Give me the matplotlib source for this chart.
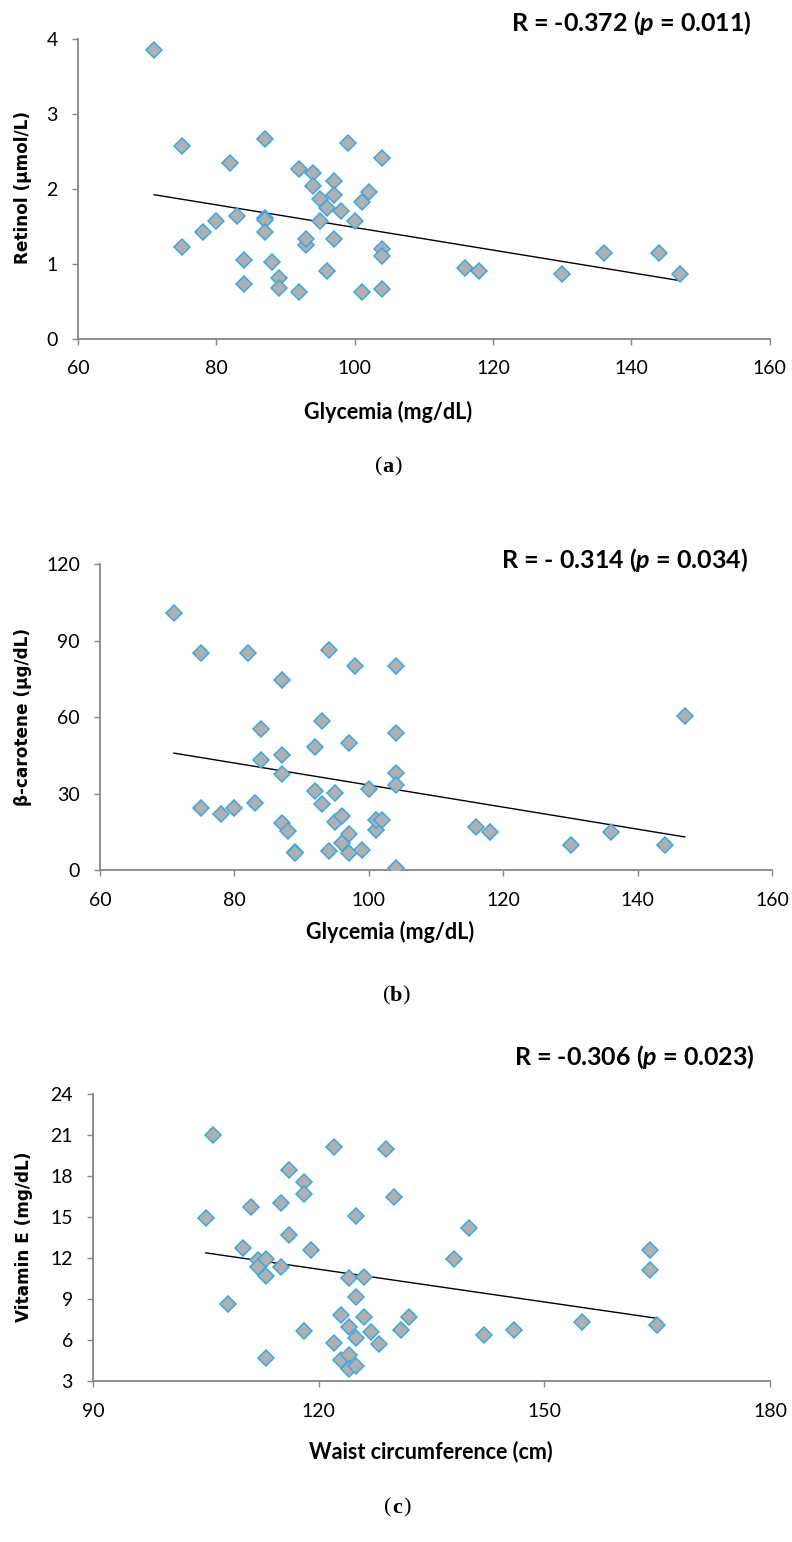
import numpy as np
import matplotlib
matplotlib.use('Agg')
import matplotlib.pyplot as plt

plt.rcParams['font.family'] = ['Lato', 'DejaVu Sans']
plt.rcParams['mathtext.fontset'] = 'custom'
plt.rcParams['mathtext.it'] = 'Lato:italic:bold'
plt.rcParams['mathtext.rm'] = 'Lato:bold'

# (a) glycemia vs retinol
glyc_a = [71, 75, 75, 78, 80, 82, 83, 84, 84, 87, 87, 87, 87, 88, 89, 89, 92, 92, 93, 93,
          94, 94, 95, 95, 96, 96, 97, 97, 97, 98, 99, 100, 101, 101, 102, 104, 104, 104, 104,
          116, 118, 130, 136, 144, 147]
retinol = [3.86, 2.57, 1.22, 1.42, 1.57, 2.34, 1.64, 1.05, 0.73, 2.66, 1.61, 1.59, 1.43, 1.02,
           0.81, 0.68, 2.26, 0.63, 1.25, 1.33, 2.21, 2.04, 1.86, 1.57, 1.74, 0.91, 2.10, 1.92,
           1.33, 1.71, 2.61, 1.57, 1.83, 0.63, 1.96, 2.41, 1.20, 1.11, 0.67, 0.94, 0.91, 0.86,
           1.15, 1.15, 0.86]

# (b) glycemia vs beta-carotene
glyc_b = [71, 75, 75, 78, 80, 82, 83, 84, 84, 87, 87, 87, 87, 88, 89, 89, 92, 92, 93, 93,
          94, 94, 95, 95, 96, 96, 97, 97, 97, 98, 99, 100, 101, 101, 102, 104, 104, 104, 104,
          104, 116, 118, 130, 136, 144, 147]
carotene = [101.0, 85.1, 24.4, 22.0, 24.4, 85.1, 26.4, 55.2, 43.1, 74.5, 45.1, 37.6, 18.3,
            15.4, 7.2, 6.8, 48.4, 31.1, 58.6, 25.9, 86.3, 7.6, 30.3, 18.7, 21.2, 10.7, 49.9,
            14.1, 6.5, 80.1, 7.8, 31.8, 15.7, 19.6, 19.6, 80.0, 53.9, 37.9, 33.3, 0.9, 17.0,
            15.0, 9.8, 15.0, 9.8, 60.5]

# (c) waist circumference vs vitamin E
waist = [105, 106, 108, 110, 111, 112, 112, 113, 113, 113, 115, 115, 116, 116, 118, 118, 118,
         119, 122, 122, 123, 123, 124, 124, 124, 124, 125, 125, 125, 125, 126, 126, 127, 128,
         129, 130, 131, 132, 138, 140, 142, 146, 155, 164, 164, 165]
vit_e = [14.92, 21.02, 8.62, 12.72, 15.72, 11.82, 11.38, 11.96, 10.69, 4.66, 16.02, 11.38,
         18.41, 13.70, 17.60, 16.70, 6.69, 12.60, 20.12, 5.81, 7.84, 4.54, 10.52, 6.93, 4.90,
         3.85, 15.09, 9.13, 6.13, 4.12, 10.64, 7.66, 6.61, 5.71, 20.00, 16.50, 6.74, 7.66,
         11.94, 14.23, 6.37, 6.74, 7.35, 12.60, 11.13, 7.10]

panels = [
    dict(x=glyc_a, y=retinol, rect=[0.0985, 0.7802, 0.8735, 0.1945],
         xlim=(60, 160), xticks=[60, 80, 100, 120, 140, 160],
         ylim=(0, 4), yticks=[0, 1, 2, 3, 4],
         xlabel='Glycemia (mg/dL)', ylabel='Retinol (µmol/L)',
         rtext=r'R = -0.372 ($p$ = 0.011)', rpos=(752, 23),
         xlpos=(388, 412), ylpos=(23, 187), tag='a', tagpos=(388, 467)),
    dict(x=glyc_b, y=carotene, rect=[0.1263, 0.4358, 0.8487, 0.1984],
         xlim=(60, 160), xticks=[60, 80, 100, 120, 140, 160],
         ylim=(0, 120), yticks=[0, 30, 60, 90, 120],
         xlabel='Glycemia (mg/dL)', ylabel='β-carotene (µg/dL)',
         rtext=r'R = - 0.314 ($p$ = 0.034)', rpos=(748, 560),
         xlpos=(390, 932), ylpos=(23, 717), tag='b', tagpos=(396, 996)),
    dict(x=waist, y=vit_e, rect=[0.1174, 0.1044, 0.8548, 0.1861],
         xlim=(90, 180), xticks=[90, 120, 150, 180],
         ylim=(3, 24), yticks=[3, 6, 9, 12, 15, 18, 21, 24],
         xlabel='Waist circumference (cm)', ylabel='Vitamin E (mg/dL)',
         rtext=r'R = -0.306 ($p$ = 0.023)', rpos=(755, 1057),
         xlpos=(431, 1452), ylpos=(24, 1237), tag='c', tagpos=(397, 1508)),
]

W, H = 792, 1542
fig = plt.figure(figsize=(W / 100, H / 100), dpi=100)

def fx(px):
    return px / W

def fy(py):
    return 1 - py / H

grey = '#868686'
for p in panels:
    ax = fig.add_axes(p['rect'])
    x = np.array(p['x'], dtype=float)
    y = np.array(p['y'], dtype=float)
    ax.plot(x, y, linestyle='none', marker='D', markersize=8.3,
            markerfacecolor='#B0B0B0', markeredgecolor='#3FA7E0',
            markeredgewidth=1.1, zorder=3)
    k, b = np.polyfit(x, y, 1)
    xx = np.array([x.min(), x.max()])
    ax.plot(xx, k * xx + b, color='black', linewidth=1.0, zorder=2)

    ax.set_xlim(*p['xlim'])
    ax.set_ylim(*p['ylim'])
    ax.set_xticks(p['xticks'])
    ax.set_yticks(p['yticks'])
    for side in ['top', 'right']:
        ax.spines[side].set_visible(False)
    for side in ['left', 'bottom']:
        ax.spines[side].set_color(grey)
        ax.spines[side].set_linewidth(1.3)
    ax.tick_params(axis='both', direction='out', length=4.5, width=1.0,
                   color=grey, labelsize=14, labelcolor='black')
    ax.tick_params(axis='y', pad=10)
    ax.tick_params(axis='x', pad=11)

    fig.text(fx(p['rpos'][0]), fy(p['rpos'][1]), p['rtext'], ha='right', va='center',
             fontsize=18, fontweight='bold')
    fig.text(fx(p['xlpos'][0]), fy(p['xlpos'][1]), p['xlabel'], ha='center', va='center',
             fontsize=15.5, fontweight='bold')
    fig.text(fx(p['ylpos'][0]), fy(p['ylpos'][1]), p['ylabel'], ha='center', va='center',
             rotation=90, fontsize=12.2, fontweight='bold', family=['DejaVu Sans'])
    tx, ty = p['tagpos']
    fig.text(fx(tx - 6), fy(ty), '(', ha='right', va='center',
             fontsize=16, family=['Liberation Serif'])
    fig.text(fx(tx), fy(ty), p['tag'], ha='center', va='center',
             fontsize=16, fontweight='bold', family=['Liberation Serif'])
    fig.text(fx(tx + 6), fy(ty), ')', ha='left', va='center',
             fontsize=16, family=['Liberation Serif'])

fig.savefig('out.png', dpi=100)
